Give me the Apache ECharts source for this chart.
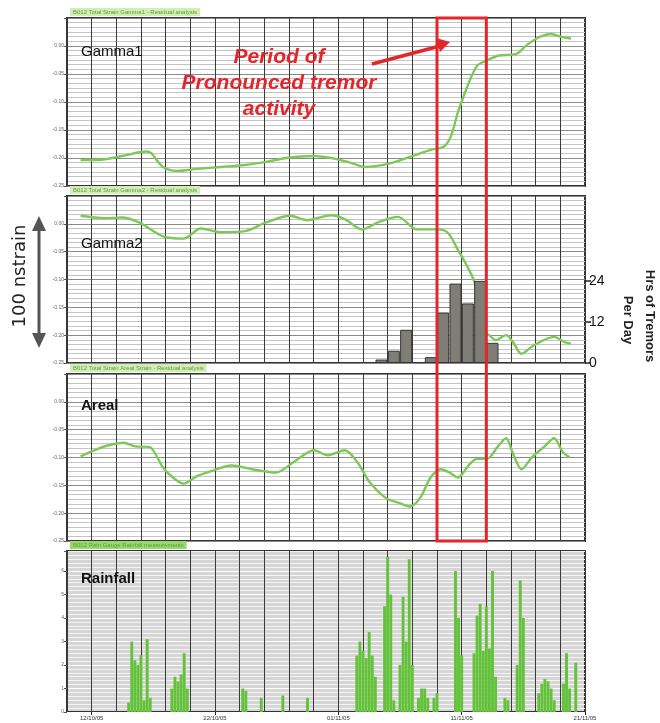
<!DOCTYPE html>
<html><head><meta charset="utf-8">
<script src="https://cdn.jsdelivr.net/npm/echarts@6/dist/echarts.min.js"></script>
<style>html,body{margin:0;padding:0;background:#fff}#c{width:660px;height:723px}</style>
</head><body><div id="c"></div>
<script>
// ---------- data ----------
const xTickDays   = [2, 12, 22, 32, 42];
const xTickLabels = ['12/10/05', '22/10/05', '01/11/05', '11/11/05', '21/11/05'];
const panelNames  = ['Gamma1', 'Gamma2', 'Areal', 'Rainfall'];
const panelTitles = ['B012 Total Strain Gamma1 - Residual analysis',
                     'B012 Total Strain Gamma2 - Residual analysis',
                     'B012 Total Strain Areal Strain - Residual analysis',
                     'B012 Rain Gauge Rainfall measurements'];
const strainTickLabels = ['-0.25', '-0.20', '-0.15', '-0.10', '-0.05', '0.00', ''];
const rainTickLabels   = ['0', '1', '2', '3', '4', '5', '6'];
const tremorTicks      = [0, 12, 24];

const g1Day = [1.10,2.76,4.46,6.41,6.81,7.78,8.92,10.54,12.49,14.43,16.14,17.8,20.03,21.69,23.08,24.16,26.11,27.81,29.48,30.57,31.14,31.7,32.51,33.24,33.93,35.03,36.41,37.3,38.35,39.24,40.05,40.86];
const g1Val = [0.93,0.94,1.07,1.23,1.18,0.68,0.54,0.61,0.68,0.75,0.86,1.0,1.07,0.98,0.82,0.68,0.80,1.04,1.29,1.41,1.79,2.64,3.61,4.29,4.46,4.66,4.71,5.04,5.33,5.43,5.33,5.27];

const g2Day = [1.10,3.05,4.44,5.84,7.78,9.45,10.84,12.51,14.46,16.14,18.08,19.46,21.41,22.52,23.92,25.30,26.84,28.38,30.04,30.88,31.70,32.55,33.08,33.3,33.65,34.22,34.78,35.6,36.16,36.86,37.83,39.49,40.34,40.86];
const g2Val = [5.29,5.20,5.23,5.05,4.55,4.47,4.83,4.70,4.74,5.05,5.29,5.13,5.31,5.17,4.80,5.07,5.25,4.80,4.80,4.68,4.06,3.39,2.84,1.93,1.21,1.0,0.82,1.0,0.75,0.33,0.63,0.94,0.75,0.69];

const tremorDay = [25.5, 26.5, 27.5, 29.5, 30.5, 31.5, 32.5, 33.5, 34.5];
const tremorHrs = [1, 3.6, 9.7, 1.7, 14.7, 23.2, 17.4, 24, 5.9];

const arDay = [1.10,2.21,3.32,4.58,5.55,6.66,7.78,8.59,9.45,10.57,11.95,13.35,15.0,16.95,18.36,20.03,21.14,22.52,23.64,24.48,25.87,26.98,27.81,28.62,29.48,30.32,31.01,31.70,32.55,33.24,34.05,34.91,35.60,36.16,36.86,37.70,38.68,39.49,40.19,40.75];
const arVal = [3.04,3.26,3.43,3.53,3.40,3.38,2.64,2.28,2.06,2.34,2.55,2.71,2.58,2.46,2.83,3.26,3.08,3.26,2.77,2.15,1.54,1.36,1.24,1.54,2.28,2.58,2.46,2.28,2.71,2.95,2.95,3.38,3.69,3.14,2.58,3.01,3.38,3.69,3.20,3.01];

const rainDay = [5.0,5.25,5.5,5.75,6.0,6.25,6.5,6.75,
  8.5,8.75,9.0,9.25,9.5,9.75,
  14.25,14.5, 15.75, 17.5, 19.5,
  23.5,23.75,24.0,24.25,24.5,24.75,25.0,
  25.75,26.0,26.25,26.5,
  27.0,27.25,27.5,27.75,28.0,
  28.5,28.75,29.0,29.25, 29.75,30.0,
  31.5,31.75,32.0,
  33.0,33.25,33.5,33.75,34.0,34.25,34.5,34.75,
  35.5,35.75,
  36.5,36.75,37.0,
  38.25,38.5,38.75,39.0,39.25,39.5,
  40.25,40.5,40.75, 41.25];
const rainVal = [0.4,3.0,2.2,2.0,2.4,0.5,3.1,0.6,
  1.0,1.5,1.3,1.6,2.5,1.0,
  1.0,0.9, 0.6, 0.7, 0.6,
  2.4,3.0,2.6,2.3,3.4,2.4,1.5,
  4.5,6.6,5.0,0.5,
  2.0,4.9,3.0,6.5,2.0,
  0.6,1.0,1.0,0.6, 0.6,0.8,
  6.0,4.0,2.4,
  2.5,4.1,4.6,2.6,4.5,2.7,6.0,1.5,
  0.6,0.5,
  2.0,5.6,4.0,
  0.8,1.2,1.4,1.3,1.0,0.5,
  1.2,2.5,1.0, 2.1];

// ---------- layout ----------
const L = 67, R = 75;
const grids = [
  {top: 18,  height: 168},
  {top: 196, height: 167},
  {top: 374, height: 167},
  {top: 551, height: 161}
];
const nameOffset = [26, 40, 24, 20];
const green = '#7cc957';

const chart = echarts.init(document.getElementById('c'), null, {renderer: 'canvas'});

function xAx(i) {
  return {
    type: 'value', gridIndex: i, min: 0, max: 42, interval: 2,
    axisLine: {show: false}, axisTick: {show: false}, axisLabel: {show: false},
    splitLine: {show: true, lineStyle: {color: '#3a3a3a', width: 1}}
  };
}
function yAx(i, max, labels) {
  return {
    type: 'value', gridIndex: i, min: 0, max: max, interval: 1,
    axisLine: {show: false},
    axisTick: {show: true, length: 3, lineStyle: {color: '#555'}},
    axisLabel: {show: true, fontSize: 5, color: '#666', margin: 3,
      formatter: v => (v === max ? '' : (labels[Math.round(v)] || ''))},
    splitLine: {show: true, lineStyle: {color: i === 3 ? '#fff' : '#8a8a8a', width: 1}},
    minorTick: {show: false, splitNumber: 6},
    minorSplitLine: {show: true, lineStyle: {color: i === 3 ? '#f4f4f4' : '#c4c4c4', width: 1}}
  };
}
const zip = (a, b) => a.map((v, k) => [v, b[k]]);

const option = {
  animation: false,
  grid: grids.map((g, i) => ({left: L, right: R, top: g.top, height: g.height, show: true,
    borderColor: '#333', borderWidth: 2, backgroundColor: i === 3 ? '#d6d6d6' : '#fff'})),
  xAxis: [0, 1, 2, 3].map(xAx).concat([{
    type: 'value', gridIndex: 3, min: 0, max: 42, position: 'bottom',
    axisLine: {show: false}, splitLine: {show: false},
    axisTick: {show: true, customValues: xTickDays, length: 3, lineStyle: {color: '#222'}},
    axisLabel: {show: true, customValues: xTickDays, fontSize: 6, color: '#333', margin: 3,
      formatter: v => xTickLabels[xTickDays.indexOf(v)] || ''}
  }]),
  yAxis: [
    yAx(0, 6, strainTickLabels),
    yAx(1, 6, strainTickLabels),
    yAx(2, 6, strainTickLabels),
    yAx(3, 6.85, rainTickLabels),
    {type: 'value', gridIndex: 1, position: 'right', min: 0, max: 48.8,
      axisLine: {show: false}, splitLine: {show: false},
      axisTick: {show: true, customValues: tremorTicks, length: 6, lineStyle: {color: '#222', width: 1.5}},
      axisLabel: {show: true, customValues: tremorTicks, fontSize: 14, color: '#111', margin: 4, fontFamily: 'Liberation Sans'}}
  ],
  series: [
    {type: 'line', xAxisIndex: 0, yAxisIndex: 0, data: zip(g1Day, g1Val), smooth: 0.3, showSymbol: false,
      lineStyle: {color: green, width: 2.4}},
    {type: 'line', xAxisIndex: 1, yAxisIndex: 1, data: zip(g2Day, g2Val), smooth: 0.3, showSymbol: false,
      lineStyle: {color: green, width: 2.4}, z: 2},
    {type: 'bar', xAxisIndex: 1, yAxisIndex: 4, data: zip(tremorDay, tremorHrs), barWidth: 12, z: 3,
      itemStyle: {color: '#7e7e76', borderColor: '#333', borderWidth: 1}},
    {type: 'line', xAxisIndex: 2, yAxisIndex: 2, data: zip(arDay, arVal), smooth: 0.3, showSymbol: false,
      lineStyle: {color: green, width: 2.4}},
    {type: 'bar', xAxisIndex: 3, yAxisIndex: 3, data: zip(rainDay, rainVal), barWidth: 2.9,
      itemStyle: {color: '#63c23a'}}
  ]
};
chart.setOption(option);

// ---------- annotations ----------
const x30 = chart.convertToPixel({xAxisIndex: 0}, 30);
const x34 = chart.convertToPixel({xAxisIndex: 0}, 34);
const yTop = chart.convertToPixel({yAxisIndex: 0}, 6);
const yBot = chart.convertToPixel({yAxisIndex: 2}, 0);
const red = '#e3262b';
const gfx = [];
grids.forEach((g, i) => {
  gfx.push({type: 'text', left: 81, top: g.top + nameOffset[i], z: 20,
    style: {text: panelNames[i], fontSize: 15, fontFamily: 'Liberation Sans', fontWeight: i >= 2 ? 'bold' : 'normal', fill: '#111'}});
  gfx.push({type: 'text', left: 70, top: g.top - 10, z: 20,
    style: {text: panelTitles[i], fontSize: 6, fill: '#5aa22e', backgroundColor: i === 3 ? '#9ad86e' : '#d3edb9', padding: [1, 3]}});
});
gfx.push({type: 'rect', z: 50, shape: {x: x30, y: yTop, width: x34 - x30, height: yBot - yTop},
  style: {fill: 'none', stroke: red, lineWidth: 3}});
['Period of', 'Pronounced tremor', 'activity'].forEach((t, k) => {
  gfx.push({type: 'text', z: 50, x: 279, y: 57 + k * 26,
    style: {text: t, fill: red, fontSize: 21, fontWeight: 'bold', fontStyle: 'italic', fontFamily: 'Liberation Sans',
      align: 'center', verticalAlign: 'middle'}});
});
gfx.push({type: 'line', z: 50, shape: {x1: 372, y1: 64, x2: 440, y2: 46}, style: {stroke: red, lineWidth: 3.5}});
gfx.push({type: 'polygon', z: 50, shape: {points: [[450, 42], [436, 38], [440, 52]]}, style: {fill: red}});
gfx.push({type: 'line', z: 50, shape: {x1: 39, y1: 228, x2: 39, y2: 336}, style: {stroke: '#555', lineWidth: 3}});
gfx.push({type: 'polygon', z: 50, shape: {points: [[39, 216], [32, 231], [46, 231]]}, style: {fill: '#555'}});
gfx.push({type: 'polygon', z: 50, shape: {points: [[39, 348], [32, 333], [46, 333]]}, style: {fill: '#555'}});
gfx.push({type: 'text', z: 50, x: 20, y: 276, rotation: Math.PI / 2,
  style: {text: '100 nstrain', fontSize: 18, fontFamily: 'DejaVu Sans', fill: '#222', align: 'center', verticalAlign: 'middle'}});
gfx.push({type: 'text', z: 50, x: 650, y: 316, rotation: -Math.PI / 2,
  style: {text: 'Hrs of Tremors', fontSize: 13, fontFamily: 'Liberation Sans', fontWeight: 'bold', fill: '#222', align: 'center', verticalAlign: 'middle'}});
gfx.push({type: 'text', z: 50, x: 628, y: 320, rotation: -Math.PI / 2,
  style: {text: 'Per Day', fontSize: 13, fontFamily: 'Liberation Sans', fontWeight: 'bold', fill: '#222', align: 'center', verticalAlign: 'middle'}});
chart.setOption({graphic: gfx});
</script></body></html>
